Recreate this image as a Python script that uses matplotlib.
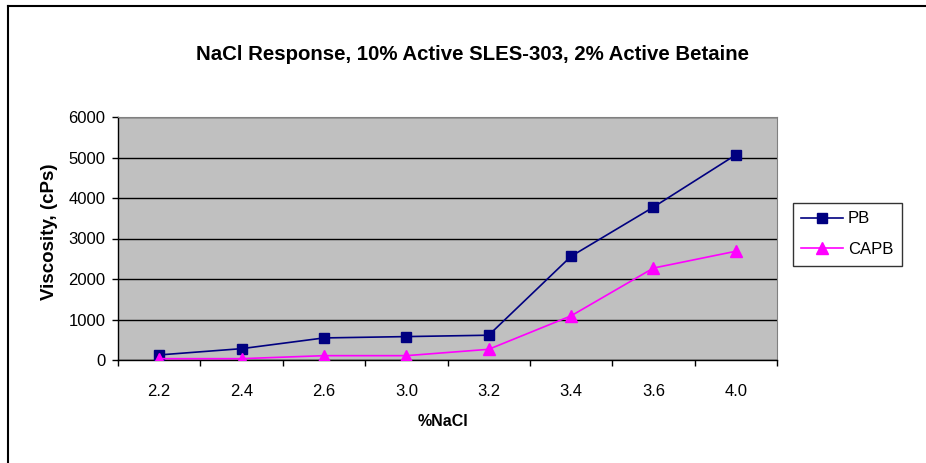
import matplotlib.pyplot as plt
from matplotlib.lines import Line2D

plt.rcParams["font.family"] = ["Liberation Sans", "DejaVu Sans"]

nacl = ["2.2", "2.4", "2.6", "3.0", "3.2", "3.4", "3.6", "4.0"]
pb = [125, 280, 545, 578, 612, 2560, 3775, 5065]
capb = [33, 33, 107, 107, 264, 1090, 2270, 2685]

W, H = 926, 463
fig = plt.figure(figsize=(W / 100, H / 100), dpi=100)
ax = fig.add_axes([118 / W, 1 - 360 / H, (777 - 118) / W, (360 - 117) / H])

ax.set_facecolor("#C0C0C0")
x = list(range(len(nacl)))
ax.plot(x, pb, color="#000080", marker="s", markersize=7, linewidth=1.2, label="PB", zorder=3)
ax.plot(x, capb, color="#FF00FF", marker="^", markersize=8, linewidth=1.2, label="CAPB", zorder=3)

ax.set_xlim(-0.5, len(nacl) - 0.5)
ax.set_ylim(0, 6000)
ax.set_yticks(range(0, 6001, 1000))
ax.yaxis.grid(True, color="black", linewidth=1)
ax.set_axisbelow(True)

# category boundaries get the tick marks, labels sit at the centres
ax.set_xticks([i - 0.5 for i in range(len(nacl) + 1)])
ax.set_xticklabels([])
ax.set_xticks(x, minor=True)
ax.set_xticklabels(nacl, minor=True)
ax.tick_params(axis="x", which="minor", length=0, pad=17, labelsize=12)
ax.tick_params(axis="x", which="major", direction="out", length=4, width=1)
ax.tick_params(axis="y", direction="out", length=4, width=1, labelsize=12, pad=5)

for side in ["top", "right"]:
    ax.spines[side].set_color("#808080")
for side in ["left", "bottom"]:
    ax.spines[side].set_color("black")
    ax.spines[side].set_linewidth(1)

fig.text(443 / W, 1 - 422 / H, "%NaCl", fontsize=11.5, fontweight="bold", ha="center", va="center")
fig.text(49 / W, 1 - 232 / H, "Viscosity, (cPs)", fontsize=13.5, fontweight="bold",
         rotation=90, ha="center", va="center")

fig.text(472 / W, 1 - 55 / H, "NaCl Response, 10% Active SLES-303, 2% Active Betaine",
         fontsize=14.7, fontweight="bold", ha="center", va="center")

leg = ax.legend(loc="upper left", bbox_to_anchor=(793 / W, 1 - 203 / H),
                bbox_transform=fig.transFigure, borderaxespad=0, frameon=True, fancybox=False,
                edgecolor="black", fontsize=12, handlelength=2.5, handletextpad=0.3,
                borderpad=0.5, labelspacing=0.95)
leg.get_frame().set_linewidth(1)

# chart area frame (only left and top edges visible)
fig.add_artist(Line2D([8 / W, 8 / W], [0, 1 - 6 / H], color="black", linewidth=1.5,
                      transform=fig.transFigure))
fig.add_artist(Line2D([8 / W, 1], [1 - 6 / H, 1 - 6 / H], color="black", linewidth=1.5,
                      transform=fig.transFigure))

fig.savefig("out.png", dpi=100)
